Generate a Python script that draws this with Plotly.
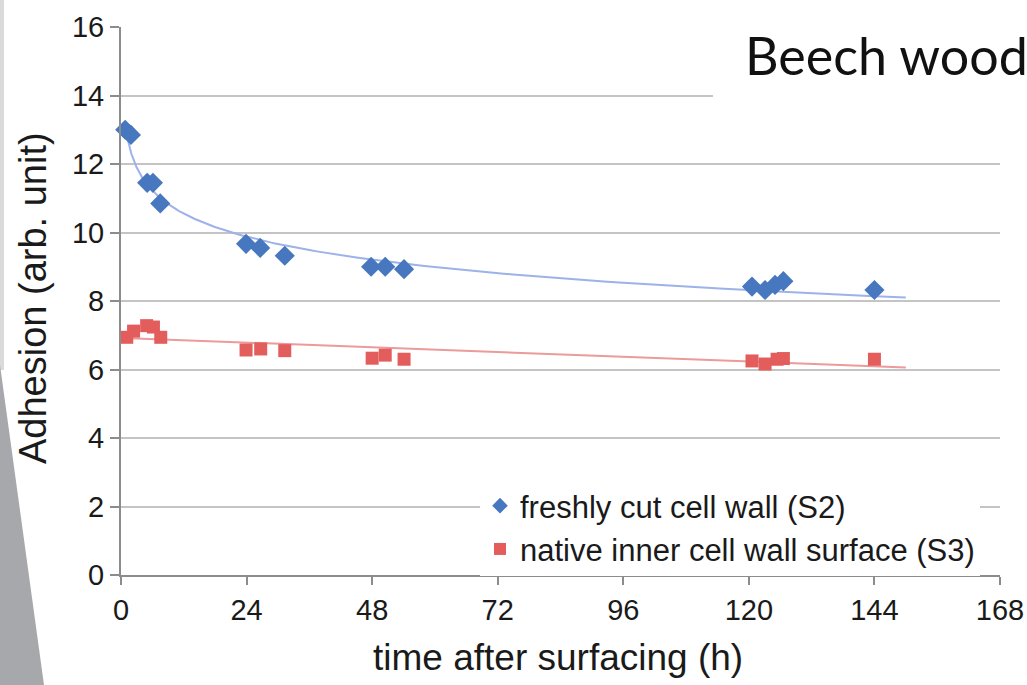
import numpy as np
import plotly.graph_objects as go

# ---- data ----
s2_time = [0.8, 1.9, 5.0, 6.1, 7.5, 23.9, 26.6, 31.3, 47.8, 50.5, 54.1, 120.6, 123.1, 125.0, 126.6, 144.0]
s2_adh = [13.0, 12.85, 11.45, 11.45, 10.85, 9.67, 9.55, 9.32, 9.0, 9.0, 8.93, 8.42, 8.32, 8.47, 8.58, 8.32]

s3_time = [1.1, 2.4, 4.9, 6.2, 7.6, 23.9, 26.7, 31.3, 48.0, 50.5, 54.1, 120.6, 123.1, 125.4, 126.6, 144.0]
s3_adh = [6.94, 7.12, 7.28, 7.24, 6.94, 6.57, 6.6, 6.55, 6.33, 6.42, 6.3, 6.25, 6.16, 6.3, 6.32, 6.3]

x_ticks = [0, 24, 48, 72, 96, 120, 144, 168]
y_ticks = [0, 2, 4, 6, 8, 10, 12, 14, 16]
trend_end = 150

names = ["freshly cut cell wall (S2)", "native inner cell wall surface (S3)"]

# ---- trend lines (regression of the data, as in the original spreadsheet) ----
b1, a1 = np.polyfit(np.log(s2_time), s2_adh, 1)
tx1 = np.geomspace(min(s2_time) * 1.6, trend_end, 200)
ty1 = a1 + b1 * np.log(tx1)

b2, a2 = np.polyfit(s3_time, s3_adh, 1)
tx2 = np.array([0.3, trend_end])
ty2 = a2 + b2 * tx2

BLUE = "#4677BF"
RED = "#E35D5D"

fig = go.Figure()
fig.add_trace(go.Scatter(x=tx1, y=ty1, mode="lines", line=dict(color="#9DB2EA", width=2),
                         showlegend=False, hoverinfo="skip"))
fig.add_trace(go.Scatter(x=tx2, y=ty2, mode="lines", line=dict(color="#EC9A9A", width=2),
                         showlegend=False, hoverinfo="skip"))
fig.add_trace(go.Scatter(x=s2_time, y=s2_adh, mode="markers", name=names[0],
                         marker=dict(symbol="diamond", size=15.5, color=BLUE), cliponaxis=False))
fig.add_trace(go.Scatter(x=s3_time, y=s3_adh, mode="markers", name=names[1],
                         marker=dict(symbol="square", size=13, color=RED), cliponaxis=False))

W, H = 1027, 685
L, R, T, B = 121, 27, 27, 110
pw, ph = W - L - R, H - T - B


def px(xp):
    return (xp - L) / pw


def py(yp):
    return (H - B - yp) / ph


shapes = [
    # slide decoration on the left
    dict(type="rect", xref="paper", yref="paper", x0=px(0), x1=px(4), y0=py(0), y1=py(370),
         fillcolor="#DADADA", line=dict(width=0), layer="below"),
    dict(type="path", xref="paper", yref="paper",
         path=f"M {px(0)} {py(365)} L {px(44)} {py(685)} L {px(0)} {py(685)} Z",
         fillcolor="#A7A8AC", line=dict(width=0), layer="below"),
    # white box behind the title text
    dict(type="rect", xref="paper", yref="paper", x0=px(713), x1=px(1027), y0=py(130), y1=py(0),
         fillcolor="white", line=dict(width=0), layer="above"),
]

annotations = [
    dict(text="Beech wood", xref="paper", yref="paper", x=px(743), y=py(55), xanchor="left",
         yanchor="middle", showarrow=False, font=dict(family="Lato", size=52, color="#111")),
    dict(text="time after surfacing (h)", xref="paper", yref="paper", x=px(558), y=py(657),
         xanchor="center", yanchor="middle", showarrow=False,
         font=dict(family="Liberation Sans", size=37, color="#1a1a1a")),
    dict(text="Adhesion (arb. unit)", xref="paper", yref="paper", x=px(33), y=py(298),
         xanchor="center", yanchor="middle", textangle=-90, showarrow=False,
         font=dict(family="Liberation Sans", size=38, color="#1a1a1a")),
]

fig.update_layout(
    width=W, height=H,
    margin=dict(l=L, r=R, t=T, b=B, autoexpand=False),
    paper_bgcolor="white", plot_bgcolor="white",
    font=dict(family="Liberation Sans", color="#1a1a1a"),
    shapes=shapes, annotations=annotations,
    legend=dict(x=px(480), y=py(479), xanchor="left", yanchor="top", bgcolor="white",
                font=dict(family="Liberation Sans", size=31, color="#1a1a1a"),
                itemsizing="constant", tracegroupgap=0, itemwidth=30),
    xaxis=dict(range=[0, 168], tickvals=x_ticks, showgrid=False, zeroline=False,
               showline=True, linecolor="#8C8C8C", linewidth=2,
               ticks="outside", ticklen=8, tickwidth=2, tickcolor="#8C8C8C",
               tickfont=dict(size=29, color="#1a1a1a"), fixedrange=True),
    yaxis=dict(range=[0, 16], tickvals=y_ticks, showgrid=True, gridcolor="#C4C4C4", gridwidth=2,
               zeroline=False, showline=True, linecolor="#8C8C8C", linewidth=2,
               ticks="outside", ticklen=9, tickwidth=2, tickcolor="#8C8C8C",
               tickfont=dict(size=29, color="#1a1a1a"), fixedrange=True),
)

fig.write_html("out.html", config={"displayModeBar": False},
               post_script="document.body.style.margin='0';")
